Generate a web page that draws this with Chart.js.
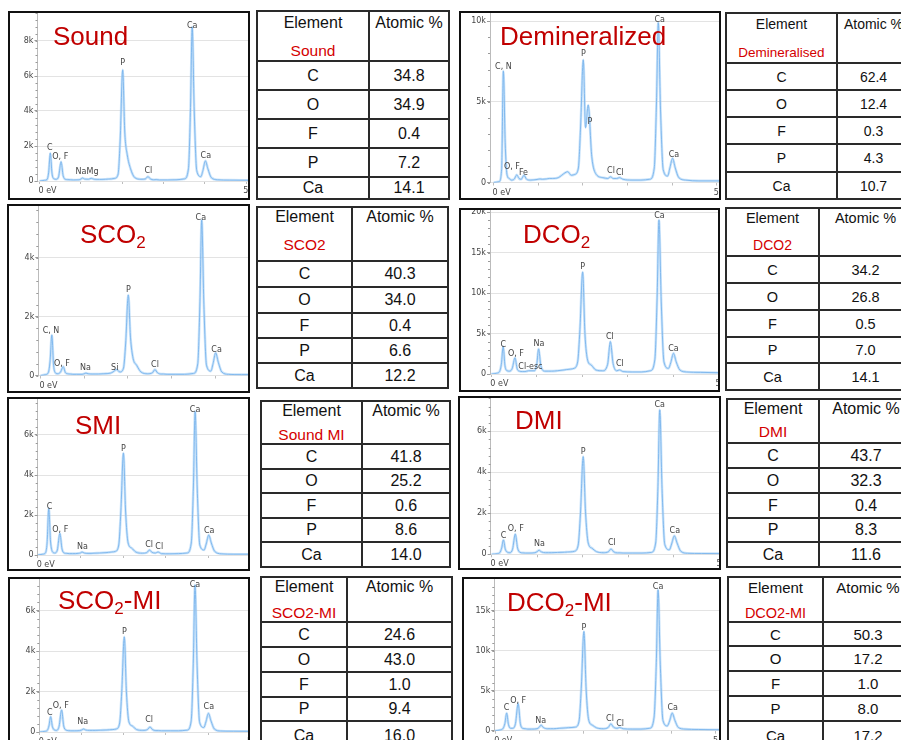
<!DOCTYPE html>
<html>
<head>
<meta charset="utf-8">
<script src="https://cdn.jsdelivr.net/npm/chart.js@4/dist/chart.umd.min.js"></script>
<style>
html,body{margin:0;padding:0;background:#fff;}
body{width:901px;height:740px;overflow:hidden;position:relative;font-family:"Liberation Sans",Arial,sans-serif;}
.box{position:absolute;border:2px solid #111;box-sizing:border-box;overflow:hidden;background:#fff;}
.box canvas{position:absolute;left:0;top:0;}
.title{position:absolute;color:#c00000;font-size:26px;line-height:26px;white-space:nowrap;z-index:2;}
.title sub{font-size:17px;vertical-align:-5px;line-height:0;}
.tline{position:absolute;background:#2a2a2a;}
.tcell{position:absolute;display:flex;align-items:center;justify-content:center;color:#111;white-space:nowrap;height:20px;}
</style>
</head>
<body>
<script>
// energy axis shared by all spectra (keV)
var energyKeV = [
  0, 0.12, 0.18, 0.22, 0.26, 0.30, 0.35, 0.40, 0.46, 0.52,
  0.57, 0.62, 0.68, 0.74, 0.82, 0.95, 1.00, 1.04, 1.09, 1.18,
  1.25, 1.32, 1.45, 1.60, 1.66, 1.74, 1.82, 1.90, 1.95, 2.01,
  2.06, 2.12, 2.20, 2.30, 2.45, 2.56, 2.62, 2.68, 2.76, 2.82,
  2.90, 3.10, 3.30, 3.50, 3.60, 3.65, 3.69, 3.74, 3.80, 3.90,
  3.95, 4.01, 4.07, 4.15, 4.30, 4.60, 5.10
];
var energyTicks = [0, 1, 2, 3, 4, 5];

// counts
var soundCounts = [
  0, 40, 80, 500, 1600, 450, 120, 100, 250, 1100,
  300, 100, 80, 70, 60, 70, 110, 170, 110, 100,
  150, 100, 90, 100, 110, 120, 150, 400, 2400, 6350,
  2800, 1500, 700, 200, 100, 120, 250, 120, 70, 80,
  60, 60, 70, 120, 700, 4200, 8800, 4000, 600, 250,
  600, 1150, 700, 200, 70, 50, 40
];
var deminCounts = [
  0, 50, 800, 6900, 2500, 500, 250, 150, 200, 470,
  250, 200, 450, 200, 150, 180, 200, 220, 200, 220,
  250, 250, 300, 600, 670, 450, 500, 900, 3500, 7600,
  3400, 4800, 1600, 500, 300, 250, 350, 250, 250, 300,
  200, 150, 150, 200, 900, 5000, 9900, 4500, 800, 400,
  900, 1500, 900, 300, 150, 100, 100
];
var sco2Counts = [
  0, 30, 100, 500, 1370, 350, 80, 60, 120, 300,
  100, 60, 50, 40, 40, 40, 60, 80, 60, 50,
  50, 50, 60, 80, 120, 200, 120, 250, 1100, 2730,
  1300, 580, 350, 120, 60, 90, 200, 90, 50, 50,
  40, 40, 40, 70, 400, 2500, 5270, 2400, 350, 150,
  400, 770, 450, 120, 40, 30, 30
];
var dco2Counts = [
  0, 100, 300, 1200, 3400, 1000, 400, 350, 700, 2000,
  600, 350, 300, 300, 400, 400, 1200, 3100, 1000, 350,
  350, 350, 400, 500, 550, 600, 700, 1500, 5500, 12600,
  5000, 1700, 1100, 500, 400, 1200, 4000, 1300, 400, 500,
  300, 250, 250, 400, 1800, 9500, 19000, 9000, 1500, 700,
  1400, 2550, 1500, 500, 250, 200, 150
];
var smiCounts = [
  0, 40, 100, 600, 2330, 700, 150, 100, 250, 1080,
  300, 100, 80, 70, 70, 80, 100, 150, 100, 80,
  80, 90, 100, 120, 130, 150, 180, 500, 2200, 5100,
  2200, 600, 350, 150, 90, 120, 250, 130, 100, 150,
  70, 60, 70, 100, 600, 3400, 7170, 3300, 500, 250,
  550, 1000, 600, 180, 60, 40, 40
];
var dmiCounts = [
  0, 30, 80, 300, 700, 250, 100, 80, 250, 990,
  300, 100, 70, 60, 60, 80, 130, 200, 120, 80,
  80, 80, 90, 100, 110, 120, 150, 450, 2000, 4760,
  2100, 550, 300, 130, 80, 120, 260, 120, 70, 70,
  60, 60, 60, 90, 550, 3300, 7040, 3200, 480, 220,
  500, 900, 550, 150, 50, 40, 30
];
var sco2miCounts = [
  0, 30, 80, 300, 760, 280, 100, 80, 280, 1090,
  300, 100, 70, 60, 60, 70, 100, 150, 100, 80,
  80, 80, 90, 100, 110, 120, 150, 450, 2000, 4700,
  2000, 500, 300, 120, 80, 120, 250, 120, 70, 70,
  60, 60, 60, 90, 550, 3400, 7260, 3300, 480, 220,
  500, 920, 550, 150, 50, 40, 30
];
var dco2miCounts = [
  0, 100, 300, 900, 2200, 800, 300, 300, 900, 3400,
  900, 300, 250, 200, 200, 250, 450, 700, 400, 250,
  250, 250, 300, 350, 380, 400, 450, 1200, 5300, 12400,
  5200, 1300, 700, 350, 250, 400, 850, 450, 300, 400,
  250, 200, 200, 300, 1700, 8500, 17600, 8300, 1300, 600,
  1200, 2200, 1300, 400, 200, 150, 120
];

// count axis ticks of each spectrum
var soundYTicks = [0, 2000, 4000, 6000, 8000];
var deminYTicks = [0, 5000, 10000];
var sco2YTicks = [0, 2000, 4000];
var dco2YTicks = [0, 5000, 10000, 15000, 20000];
var smiYTicks = [0, 2000, 4000, 6000];
var dmiYTicks = [0, 2000, 4000, 6000];
var sco2miYTicks = [0, 2000, 4000, 6000];
var dco2miYTicks = [0, 5000, 10000, 15000];

// peak tags: text, keV, counts (text centre)
var soundTags = [['C',0.25,1870],['O, F',0.5,1390],['Na',1.0,530],['Mg',1.28,500],['P',2.01,6730],['Cl',2.63,590],['Ca',3.69,8870],['Ca',4.02,1430]];
var deminTags = [['C, N',0.22,7130],['O, F',0.41,980],['Fe',0.67,570],['P',2.01,7980],['P',2.16,3780],['Cl',2.63,710],['Cl',2.83,610],['Ca',3.72,10090],['Ca',4.04,1710]];
var sco2Tags = [['C, N',0.24,1520],['O, F',0.49,390],['Na',1.03,260],['Si',1.70,260],['P',2.01,2920],['Cl',2.62,360],['Ca',3.67,5360],['Ca',4.03,860]];
var dco2Tags = [['C',0.26,3580],['O, F',0.54,2470],['Cl-esc',0.86,900],['Na',1.05,3670],['P',2.01,13250],['Cl',2.61,4600],['Cl',2.83,1200],['Ca',3.7,19500],['Ca',4.01,3090]];
var smiTags = [['C',0.28,2380],['O, F',0.53,1250],['Na',1.05,420],['P',2.01,5280],['Cl',2.61,500],['Cl',2.85,380],['Ca',3.69,7250],['Ca',4.02,1220]];
var dmiTags = [['C',0.26,910],['O, F',0.53,1230],['Na',1.05,490],['P',2.01,4980],['Cl',2.64,540],['Ca',3.69,7280],['Ca',4.02,1150]];
var sco2miTags = [['C',0.24,950],['O, F',0.5,1280],['Na',1.02,510],['P',2.01,4950],['Cl',2.6,590],['Ca',3.69,7260],['Ca',4.02,1220]];
var dco2miTags = [['C',0.26,2880],['O, F',0.52,3710],['Na',1.03,1250],['P',2.01,12900],['Cl',2.6,1420],['Cl',2.83,840],['Ca',3.69,18000],['Ca',4.02,2880]];

// table data
var elements = ['C', 'O', 'F', 'P', 'Ca'];
var soundPct = [34.8, 34.9, 0.4, 7.2, 14.1];
var deminPct = [62.4, 12.4, 0.3, 4.3, 10.7];
var sco2Pct = [40.3, 34.0, 0.4, 6.6, 12.2];
var dco2Pct = [34.2, 26.8, 0.5, 7.0, 14.1];
var smiPct = [41.8, 25.2, 0.6, 8.6, 14.0];
var dmiPct = [43.7, 32.3, 0.4, 8.3, 11.6];
var sco2miPct = [24.6, 43.0, 1.0, 9.4, 16.0];
var dco2miPct = [50.3, 17.2, 1.0, 8.0, 17.2];

// layout: box [left, top, w, h], axis pixel, zero pixel, ranges
var panels = [
  {box:[8,11,242,189], axisX:37.5, y0:181, xMin:-0.05, xMax:5.04, yMax:9600, yTicks:soundYTicks, counts:soundCounts, tags:soundTags,
   title:'Sound', tpos:[53,45]},
  {box:[459,11,262,189], axisX:490, y0:182.5, xMin:-0.08, xMax:5.05, yMax:10500, yTicks:deminYTicks, counts:deminCounts, tags:deminTags,
   title:'Demineralized', tpos:[500,45]},
  {box:[7,204,243,189], axisX:38.3, y0:375.5, xMin:-0.05, xMax:4.75, yMax:5750, yTicks:sco2YTicks, counts:sco2Counts, tags:sco2Tags,
   title:'SCO<sub>2</sub>', tpos:[80,243]},
  {box:[459,208,261,184], axisX:490, y0:374, xMin:-0.03, xMax:4.99, yMax:20250, yTicks:dco2YTicks, counts:dco2Counts, tags:dco2Tags,
   title:'DCO<sub>2</sub>', tpos:[523,243]},
  {box:[7,397,243,174], axisX:37.7, y0:555, xMin:0, xMax:4.93, yMax:7800, yTicks:smiYTicks, counts:smiCounts, tags:smiTags,
   title:'SMI', tpos:[75,434]},
  {box:[458,396,263,174], axisX:490.7, y0:554.3, xMin:-0.02, xMax:4.99, yMax:7620, yTicks:dmiYTicks, counts:dmiCounts, tags:dmiTags,
   title:'DMI', tpos:[515,429]},
  {box:[8,577,242,200], axisX:39.3, y0:732, xMin:-0.01, xMax:4.95, yMax:7560, yTicks:sco2miYTicks, counts:sco2miCounts, tags:sco2miTags,
   title:'SCO<sub>2</sub>-MI', tpos:[58,609]},
  {box:[462,577,259,200], axisX:494.3, y0:730.7, xMin:-0.02, xMax:5.07, yMax:18960, yTicks:dco2miYTicks, counts:dco2miCounts, tags:dco2miTags,
   title:'DCO<sub>2</sub>-MI', tpos:[507,611]}
];

var tables = [
  {xs:[257,369,449], ys:[11,61,90,119,148,177,199], font:16, sub:'Sound', headY:11.7, subY:39.7, pct:soundPct},
  {xs:[726,837,910], ys:[13,63,90,117,144,172,199], font:14, sub:'Demineralised', headY:10.7, subY:39, pct:deminPct},
  {xs:[257,352,448], ys:[207,261,287,313,338,363,388], font:16, sub:'SCO2', headY:10, subY:38, pct:sco2Pct},
  {xs:[726,819,912], ys:[208,256,283,310,337,363,390], font:14.5, sub:'DCO2', headY:10, subY:37.4, pct:dco2Pct},
  {xs:[261,362,450], ys:[401,444,469,493,518,542,567], font:16, sub:'Sound MI', headY:9.7, subY:34, pct:smiPct},
  {xs:[727,819,913], ys:[399,443,468,493,518,542,567], font:16, sub:'DMI', headY:9.7, subY:33.4, pct:dmiPct},
  {xs:[261,347,452], ys:[577,622,647,672,697,721,750], font:16, sub:'SCO2-MI', headY:10, subY:36, pct:sco2miPct},
  {xs:[728,823,913], ys:[577,622,646,671,696,721,750], font:15, sub:'DCO2-MI', headY:10, subY:35.6, pct:dco2miPct}
];

function decor(p) {
  return {
    id: 'decor',
    afterDraw: function(chart) {
      var ctx = chart.ctx, xs = chart.scales.x, ys = chart.scales.y;
      ctx.save();
      // minor ticks on the count axis, five per major step
      ctx.strokeStyle = '#9a9a9a';
      ctx.lineWidth = 1;
      var minor = (p.yTicks[1] - p.yTicks[0]) / 5;
      for (var v = 0; v <= p.yMax; v += minor) {
        var py = Math.round(ys.getPixelForValue(v)) + 0.5;
        ctx.beginPath(); ctx.moveTo(xs.left - 2, py); ctx.lineTo(xs.left, py); ctx.stroke();
      }
      ctx.fillStyle = '#444';
      ctx.font = '8px "DejaVu Sans"';
      ctx.textBaseline = 'middle';
      ctx.textAlign = 'left';
      var by = ys.getPixelForValue(0) + 10;
      ctx.fillText('0 eV', xs.getPixelForValue(0) - 1, by);
      ctx.fillText('5 keV', xs.getPixelForValue(5) - 3, by);
      ctx.textAlign = 'center';
      p.tags.forEach(function(t) {
        ctx.fillText(t[0], xs.getPixelForValue(t[1]), ys.getPixelForValue(t[2]));
      });
      ctx.restore();
    }
  };
}

panels.forEach(function(p) {
  var b = p.box;
  var div = document.createElement('div');
  div.className = 'box';
  div.style.left = b[0] + 'px'; div.style.top = b[1] + 'px';
  div.style.width = b[2] + 'px'; div.style.height = b[3] + 'px';
  var cv = document.createElement('canvas');
  var cw = b[2] - 4, ch = b[3] - 4;
  cv.width = cw; cv.height = ch;
  cv.style.width = cw + 'px'; cv.style.height = ch + 'px';
  div.appendChild(cv);
  document.body.appendChild(div);

  var yW = p.axisX - (b[0] + 2);
  var xH = (b[1] + 2 + ch) - p.y0;

  var pts = energyKeV.map(function(e, i) { return {x: e, y: p.counts[i]}; });

  new Chart(cv, {
    type: 'line',
    data: {
      datasets: [
        {data: pts, borderColor: 'rgba(160,205,245,0.55)', borderWidth: 2.6, pointRadius: 0, cubicInterpolationMode: 'monotone'},
        {data: pts, borderColor: 'rgba(75,150,225,0.9)', borderWidth: 1, pointRadius: 0, cubicInterpolationMode: 'monotone'}
      ]
    },
    options: {
      responsive: false,
      animation: false,
      events: [],
      layout: {padding: 0},
      plugins: {legend: {display: false}, tooltip: {enabled: false}},
      scales: {
        x: {
          type: 'linear', min: p.xMin, max: p.xMax,
          afterBuildTicks: function(s) {
            s.ticks = energyTicks.filter(function(v) { return v <= p.xMax; }).map(function(v) { return {value: v}; });
          },
          afterFit: function(s) { s.height = xH; s.paddingLeft = 0; s.paddingRight = 0; },
          ticks: {callback: function() { return ''; }},
          grid: {drawOnChartArea: false, tickLength: 3, color: '#bdbdbd'},
          border: {color: '#e2e2e2'}
        },
        y: {
          min: 0, max: p.yMax,
          afterBuildTicks: function(s) {
            s.ticks = p.yTicks.map(function(v) { return {value: v}; });
          },
          afterFit: function(s) { s.width = yW; s.paddingTop = 0; s.paddingBottom = 0; },
          ticks: {
            padding: 1, color: '#444',
            font: {family: 'DejaVu Sans', size: 8},
            callback: function(v) { return v === 0 ? '0' : (v / 1000) + 'k'; }
          },
          grid: {color: '#e3e3e3', tickLength: 3, tickColor: '#999'},
          border: {color: '#bbb'}
        }
      }
    },
    plugins: [decor(p)]
  });

  var t = document.createElement('div');
  t.className = 'title';
  t.innerHTML = p.title;
  t.style.left = p.tpos[0] + 'px';
  t.style.top = (p.tpos[1] - 22) + 'px';
  document.body.appendChild(t);
});

function line(x, y, w, h) {
  var d = document.createElement('div');
  d.className = 'tline';
  d.style.left = x + 'px'; d.style.top = y + 'px';
  d.style.width = w + 'px'; d.style.height = h + 'px';
  document.body.appendChild(d);
}
function cell(x, cy, w, text, size, color) {
  var d = document.createElement('div');
  d.className = 'tcell';
  d.style.left = x + 'px'; d.style.top = (cy - 10) + 'px';
  d.style.width = w + 'px';
  d.style.fontSize = size + 'px';
  d.style.color = color;
  d.textContent = text;
  document.body.appendChild(d);
}

tables.forEach(function(t) {
  var x0 = t.xs[0], xc = t.xs[1], x1 = t.xs[2], ys = t.ys;
  var bottom = ys[ys.length - 1];
  ys.forEach(function(y) { line(x0 - 1, y - 1, x1 - x0 + 2, 2); });
  [x0, xc, x1].forEach(function(x) { line(x - 1, ys[0] - 1, 2, bottom - ys[0] + 2); });
  cell(x0, ys[0] + t.headY, xc - x0, 'Element', t.font, '#111');
  cell(xc, ys[0] + t.headY, x1 - xc, 'Atomic %', t.font, '#111');
  cell(x0, ys[0] + t.subY, xc - x0, t.sub, t.font - 0.5, '#d40000');
  elements.forEach(function(el, i) {
    var cy = (ys[i + 1] + ys[i + 2]) / 2;
    cell(x0, cy, xc - x0, el, t.font, '#111');
    cell(xc, cy, x1 - xc, t.pct[i].toFixed(1), t.font, '#111');
  });
});
</script>
</body>
</html>
